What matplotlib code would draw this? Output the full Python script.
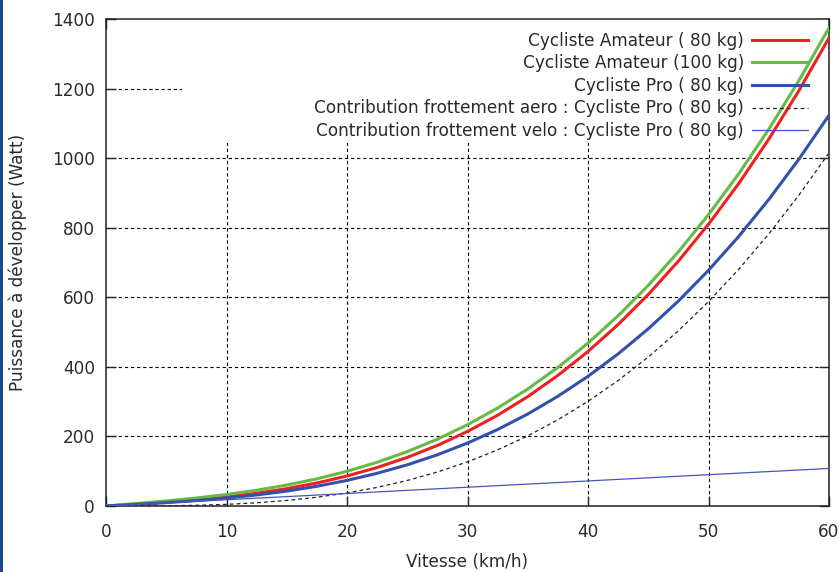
import matplotlib
matplotlib.use("Agg")
import matplotlib.pyplot as plt
from matplotlib.patches import Rectangle

# vitesse (km/h)
vitesse = [0, 2.5, 5, 7.5, 10, 12.5, 15, 17.5, 20, 22.5, 25, 27.5, 30,
           32.5, 35, 37.5, 40, 42.5, 45, 47.5, 50, 52.5, 55, 57.5, 60]

# puissance (W)
amateur_80 = [0, 5.2, 11.0, 17.8, 26.2, 36.7, 49.9, 66.2, 86.3, 110.6, 139.7,
              174.1, 214.3, 260.9, 314.4, 375.4, 444.2, 521.6, 608.0, 704.0,
              810.0, 926.6, 1054.4, 1193.9, 1345.6]
amateur_100 = [0, 7.0, 14.5, 23.0, 33.1, 45.3, 60.2, 78.1, 99.8, 125.7, 156.3,
               192.1, 233.7, 281.6, 336.4, 398.4, 468.4, 546.8, 634.1, 730.8,
               837.5, 954.7, 1082.9, 1222.7, 1374.6]
pro_80 = [0, 4.6, 9.6, 15.5, 22.7, 31.7, 42.9, 56.7, 73.6, 94.0, 118.4,
          147.2, 180.9, 219.8, 264.5, 315.4, 372.8, 437.3, 509.3, 589.2,
          677.5, 774.6, 881.0, 997.0, 1123.2]
aero_pro = [0, 0.1, 0.6, 2.0, 4.7, 9.2, 15.9, 25.2, 37.6, 53.5, 73.4, 97.7,
            126.9, 161.3, 201.5, 247.9, 300.8, 360.8, 428.3, 503.7, 587.5,
            680.1, 782.0, 893.5, 1015.2]
velo_pro = [0, 4.5, 9.0, 13.5, 18.0, 22.5, 27.0, 31.5, 36.0, 40.5, 45.0,
            49.5, 54.0, 58.5, 63.0, 67.5, 72.0, 76.5, 81.0, 85.5, 90.0, 94.5,
            99.0, 103.5, 108.0]

labels = ["Cycliste Amateur ( 80 kg)",
          "Cycliste Amateur (100 kg)",
          "Cycliste Pro ( 80 kg)",
          "Contribution frottement aero : Cycliste Pro ( 80 kg)",
          "Contribution frottement velo : Cycliste Pro ( 80 kg)"]

xticks = [0, 10, 20, 30, 40, 50, 60]
yticks = [0, 200, 400, 600, 800, 1000, 1200, 1400]

plt.rcParams['font.family'] = ['DejaVu Sans']
FS = 12.2
TXT = '#2a2a2a'

fig = plt.figure(figsize=(8.39, 5.72), dpi=100)
ax = fig.add_axes([106 / 839, 66 / 572, 723 / 839, 487 / 572])

ax.plot(vitesse, amateur_80, color='#ee2020', lw=2.2, label=labels[0], zorder=3)
ax.plot(vitesse, amateur_100, color='#66bb44', lw=2.2, label=labels[1], zorder=3)
ax.plot(vitesse, pro_80, color='#3350aa', lw=2.2, label=labels[2], zorder=3)
ax.plot(vitesse, aero_pro, color='#222222', lw=0.9, ls=(0, (3, 2.5)),
        label=labels[3], zorder=3)
ax.plot(vitesse, velo_pro, color='#4455bb', lw=0.9, label=labels[4], zorder=3)

ax.set_xlim(0, 60)
ax.set_ylim(0, 1400)
ax.set_xticks(xticks)
ax.set_yticks(yticks)

ax.set_axisbelow(True)
ax.grid(True, color='black', lw=0.8, ls=(0, (3, 2.5)))
# pas de grille sur les bords du cadre
for gl in (ax.xaxis.get_gridlines()[0], ax.xaxis.get_gridlines()[-1],
           ax.yaxis.get_gridlines()[0], ax.yaxis.get_gridlines()[-1]):
    gl.set_visible(False)

# zone blanche de la legende, qui cache la grille
ax.add_patch(Rectangle((76 / 723, 363 / 487), 1 - 76 / 723, 1 - 363 / 487,
                       transform=ax.transAxes, facecolor='white',
                       edgecolor='none', zorder=1))

ax.tick_params(direction='in', length=7, width=1, top=True, right=True,
               labelsize=FS, labelcolor=TXT, color='#222222')
ax.tick_params(axis='x', pad=12)
ax.tick_params(axis='y', pad=8)
for s in ax.spines.values():
    s.set_linewidth(1.1)
    s.set_color('#222222')

ax.set_xlabel("Vitesse (km/h)", fontsize=FS, color=TXT, labelpad=9)
ax.set_ylabel("Puissance à développer (Watt)", fontsize=FS, color=TXT, labelpad=18)

leg = ax.legend(loc='upper right', bbox_to_anchor=(1 - 8 / 723, 1),
                frameon=False, markerfirst=False, fontsize=FS,
                handlelength=3.3, handletextpad=0.5, labelspacing=0.27,
                borderpad=0.75, borderaxespad=0)
leg.set_zorder(5)
for t in leg.get_texts():
    t.set_color(TXT)

# bord bleu a gauche
fig.add_artist(Rectangle((0, 0), 3 / 839, 1, transform=fig.transFigure,
                         facecolor='#1a4a88', edgecolor='none'))

fig.savefig("out.png", dpi=100)
